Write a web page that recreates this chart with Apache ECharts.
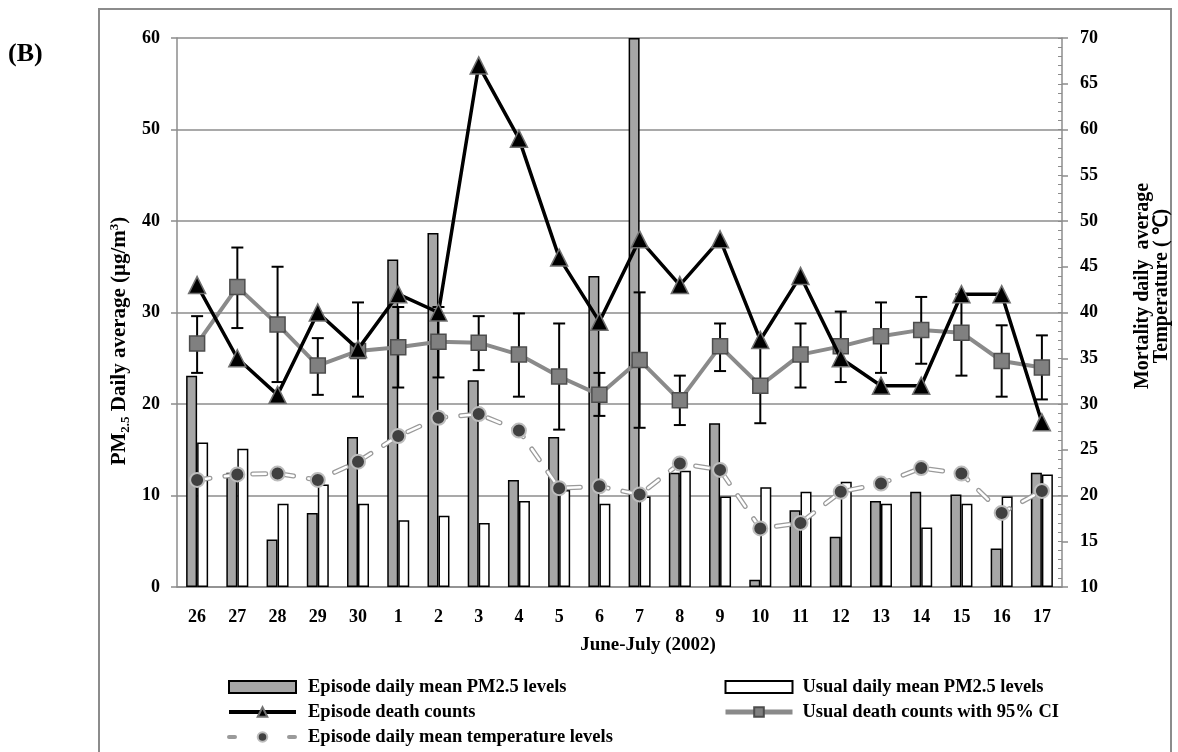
<!DOCTYPE html>
<html>
<head>
<meta charset="utf-8">
<script src="https://cdn.jsdelivr.net/npm/echarts@6/dist/echarts.min.js"></script>
<style>
  html, body { margin: 0; padding: 0; background: #fff; }
  #chart { width: 1178px; height: 752px; }
</style>
</head>
<body>
<div id="chart"></div>
<script>
// Days of the June–July 2002 episode window
const days = ['26','27','28','29','30','1','2','3','4','5','6','7','8','9','10','11','12','13','14','15','16','17'];

// PM2.5 daily means (µg/m³), left axis
const episodePM = [23.1, 12.5, 5.2, 8.1, 16.4, 35.8, 38.7, 22.6, 11.7, 16.4, 34.0, 60.0, 12.5, 17.9, 0.8, 8.4, 5.5, 9.4, 10.4, 10.1, 4.2, 12.5];
const usualPM   = [15.8, 15.1, 9.1, 11.2, 9.1, 7.3, 7.8, 7.0, 9.4, 10.6, 9.1, 9.9, 12.7, 9.9, 10.9, 10.4, 11.5, 9.1, 6.5, 9.1, 9.9, 12.3];

// Daily death counts, right axis
const episodeDeaths = [43, 35, 31, 40, 36, 42, 40, 67, 59, 46, 39, 48, 43, 48, 37, 44, 35, 32, 32, 42, 42, 28];
const usualDeaths   = [36.6, 42.8, 38.7, 34.2, 35.8, 36.2, 36.8, 36.7, 35.4, 33.0, 31.0, 34.8, 30.4, 36.3, 32.0, 35.4, 36.3, 37.4, 38.1, 37.8, 34.7, 34.0];
const usualCILow    = [33.4, 38.3, 32.4, 31.0, 30.8, 31.8, 32.9, 33.7, 30.8, 27.2, 28.7, 27.4, 27.7, 33.6, 27.9, 31.8, 32.4, 33.4, 34.4, 33.1, 30.8, 30.5];
const usualCIHigh   = [39.6, 47.1, 45.0, 37.2, 41.1, 40.6, 40.6, 39.6, 39.9, 38.8, 33.4, 42.2, 33.1, 38.8, 36.5, 38.8, 40.1, 41.1, 41.7, 42.0, 38.6, 37.5];

// Episode daily mean temperature (°C), right axis
const episodeTemp = [21.7, 22.3, 22.4, 21.7, 23.7, 26.5, 28.5, 28.9, 27.1, 20.8, 21.0, 20.1, 23.5, 22.8, 16.4, 17.0, 20.4, 21.3, 23.0, 22.4, 18.1, 20.5];

// Tick settings
const leftTicks = { min: 0, max: 60, interval: 10 };
const rightTicks = { min: 10, max: 70, interval: 5 };

const NAMES = {
  epPM: 'Episode daily mean PM2.5 levels',
  usPM: 'Usual daily mean PM2.5 levels',
  epD: 'Episode death counts',
  usD: 'Usual death counts with 95% CI',
  epT: 'Episode daily mean temperature levels'
};

const FONT = 'Liberation Serif';
const AXIS_GRAY = '#8c8c8c';
const TEMP_DASH = [13, 15];

const ciData = days.map((d, i) => [i, usualCILow[i], usualCIHigh[i]]);

const legendText = { fontFamily: FONT, fontWeight: 'bold', fontSize: 18.5, color: '#000', lineHeight: 20 };

const chart = echarts.init(document.getElementById('chart'), null, { renderer: 'canvas' });

chart.setOption({
  backgroundColor: '#fff',
  animation: false,
  textStyle: { fontFamily: FONT },
  grid: { left: 177, right: 116, top: 38, bottom: 165 },
  xAxis: {
    type: 'category',
    data: days,
    boundaryGap: true,
    axisLine: { lineStyle: { color: AXIS_GRAY, width: 1.5 } },
    axisTick: { alignWithLabel: false, length: 6, lineStyle: { color: AXIS_GRAY, width: 1.5 } },
    axisLabel: { interval: 0, margin: 21, color: '#000', fontFamily: FONT, fontWeight: 'bold', fontSize: 18 },
    splitLine: { show: false }
  },
  yAxis: [
    {
      type: 'value', position: 'left',
      min: leftTicks.min, max: leftTicks.max, interval: leftTicks.interval,
      axisLine: { show: true, lineStyle: { color: AXIS_GRAY, width: 1.5 } },
      axisTick: { show: true, length: 6, lineStyle: { color: AXIS_GRAY, width: 1.5 } },
      axisLabel: { margin: 17, color: '#000', fontFamily: FONT, fontWeight: 'bold', fontSize: 18 },
      splitLine: { show: true, lineStyle: { color: AXIS_GRAY, width: 1.5 } }
    },
    {
      type: 'value', position: 'right',
      min: rightTicks.min, max: rightTicks.max, interval: rightTicks.interval,
      axisLine: { show: true, lineStyle: { color: AXIS_GRAY, width: 1.5 } },
      axisTick: { show: true, length: 6, lineStyle: { color: AXIS_GRAY, width: 1.5 } },
      axisLabel: { margin: 18, color: '#000', fontFamily: FONT, fontWeight: 'bold', fontSize: 18 },
      splitLine: { show: false }
    },
    {
      // unit ticks along the inner side of the right axis
      type: 'value', position: 'right',
      min: rightTicks.min, max: rightTicks.max, interval: 1,
      axisLine: { show: false },
      axisTick: { show: true, inside: true, length: 4, lineStyle: { color: AXIS_GRAY, width: 1 } },
      axisLabel: { show: false },
      splitLine: { show: false }
    }
  ],
  legend: [
    {
      orient: 'vertical', left: 227, top: 677, height: 78, padding: 0,
      itemWidth: 67, itemHeight: 12, itemGap: 5,
      textStyle: Object.assign({ padding: [0, 0, 0, 7] }, legendText),
      selectedMode: false,
      data: [
        { name: NAMES.epPM, icon: 'rect' },
        { name: NAMES.epD, lineStyle: { color: '#000', width: 4 } },
        { name: NAMES.epT, lineStyle: { color: '#9a9a9a', width: 4, type: [6, 24], cap: 'round', opacity: 1 } }
      ]
    },
    {
      orient: 'vertical', left: 723, top: 677, height: 78, padding: 0,
      itemWidth: 67, itemHeight: 12, itemGap: 5,
      textStyle: Object.assign({ padding: [0, 0, 0, 5] }, legendText),
      selectedMode: false,
      data: [
        { name: NAMES.usPM, icon: 'rect' },
        { name: NAMES.usD, lineStyle: { color: '#8a8a8a', width: 5 } }
      ]
    }
  ],
  series: [
    {
      name: NAMES.epPM, type: 'bar', yAxisIndex: 0,
      data: episodePM, barWidth: 11, barGap: '0%', z: 1,
      itemStyle: { color: '#a6a6a6', borderColor: '#000', borderWidth: 1.5 }
    },
    {
      name: NAMES.usPM, type: 'bar', yAxisIndex: 0,
      data: usualPM, barWidth: 11, barGap: '0%', z: 1,
      itemStyle: { color: '#ffffff', borderColor: '#000', borderWidth: 1.5 }
    },
    {
      // 95% confidence interval whiskers for usual deaths
      name: 'ci', type: 'custom', yAxisIndex: 1, z: 2,
      data: ciData,
      encode: { x: 0, y: [1, 2] },
      renderItem: function (params, api) {
        const x = api.value(0);
        const lo = api.coord([x, api.value(1)]);
        const hi = api.coord([x, api.value(2)]);
        const half = 6;
        const style = { stroke: '#000', lineWidth: 2 };
        return {
          type: 'group',
          children: [
            { type: 'line', shape: { x1: lo[0], y1: lo[1], x2: hi[0], y2: hi[1] }, style: style },
            { type: 'line', shape: { x1: lo[0] - half, y1: lo[1], x2: lo[0] + half, y2: lo[1] }, style: style },
            { type: 'line', shape: { x1: hi[0] - half, y1: hi[1], x2: hi[0] + half, y2: hi[1] }, style: style }
          ]
        };
      }
    },
    {
      // outline of the temperature dashes
      name: 'tempOutline', type: 'line', yAxisIndex: 1, z: 3,
      data: episodeTemp, symbol: 'none',
      lineStyle: { color: '#9a9a9a', width: 5, type: TEMP_DASH, cap: 'round' }
    },
    {
      // hollow centre of the temperature dashes
      name: 'tempInner', type: 'line', yAxisIndex: 1, z: 4,
      data: episodeTemp, symbol: 'none',
      lineStyle: { color: '#ffffff', width: 2.5, type: TEMP_DASH, cap: 'round' }
    },
    {
      name: NAMES.epT, type: 'line', yAxisIndex: 1, z: 5,
      data: episodeTemp,
      symbol: 'circle', symbolSize: 14,
      lineStyle: { width: 0, opacity: 0 },
      itemStyle: { color: '#404040', borderColor: '#bdbdbd', borderWidth: 2 }
    },
    {
      name: NAMES.usD, type: 'line', yAxisIndex: 1, z: 6,
      data: usualDeaths,
      symbol: 'rect', symbolSize: 15,
      lineStyle: { color: '#8a8a8a', width: 4 },
      itemStyle: { color: '#808080', borderColor: '#4d4d4d', borderWidth: 1.5 }
    },
    {
      name: NAMES.epD, type: 'line', yAxisIndex: 1, z: 7,
      data: episodeDeaths,
      symbol: 'triangle', symbolSize: 17,
      lineStyle: { color: '#000', width: 3.5 },
      itemStyle: { color: '#000', borderColor: '#707070', borderWidth: 1.5 }
    }
  ],
  graphic: [
    {
      type: 'rect', silent: true, z: 0,
      shape: { x: 99, y: 9, width: 1072, height: 770 },
      style: { fill: 'none', stroke: AXIS_GRAY, lineWidth: 2 }
    },
    {
      type: 'text', x: 8, y: 54,
      style: { text: '(B)', fontFamily: FONT, fontWeight: 'bold', fontSize: 26, fill: '#000', verticalAlign: 'middle' }
    },
    {
      type: 'text', x: 120, y: 341, rotation: Math.PI / 2,
      style: {
        text: '{a|PM}{s|2.5}{a| Daily average (μg/m}{p|3}{a|)}',
        align: 'center', verticalAlign: 'middle',
        rich: {
          a: { fontFamily: FONT, fontWeight: 'bold', fontSize: 21, fill: '#000', lineHeight: 24 },
          s: { fontFamily: FONT, fontWeight: 'bold', fontSize: 13, fill: '#000', lineHeight: 24, verticalAlign: 'bottom', padding: [9, 0, 0, 0] },
          p: { fontFamily: FONT, fontWeight: 'bold', fontSize: 13, fill: '#000', lineHeight: 24, verticalAlign: 'top', padding: [0, 0, 9, 0] }
        }
      }
    },
    {
      type: 'text', x: 1152, y: 286, rotation: Math.PI / 2,
      style: {
        text: 'Mortality daily  average\nTemperature ( ℃)',
        align: 'center', verticalAlign: 'middle',
        fontFamily: FONT, fontWeight: 'bold', fontSize: 20, lineHeight: 19, fill: '#000'
      }
    },
    {
      type: 'text', x: 648, y: 645,
      style: {
        text: 'June-July (2002)',
        align: 'center', verticalAlign: 'middle',
        fontFamily: FONT, fontWeight: 'bold', fontSize: 19, fill: '#000'
      }
    }
  ]
});
</script>
</body>
</html>
